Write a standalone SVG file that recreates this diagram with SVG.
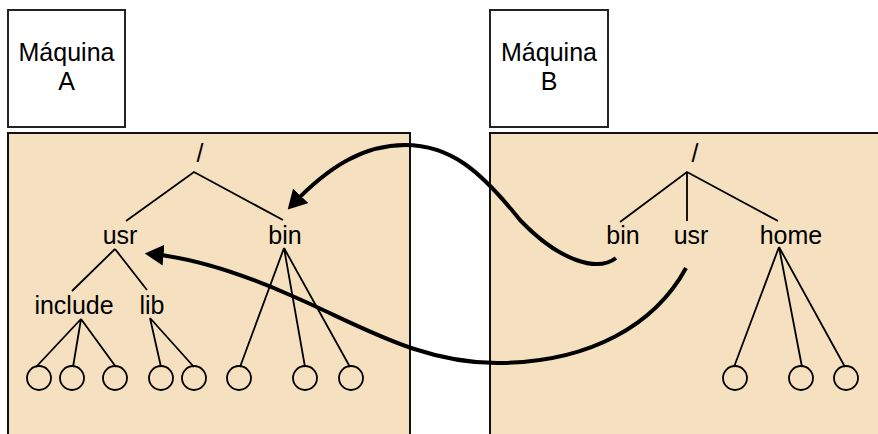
<svg xmlns="http://www.w3.org/2000/svg" width="878" height="434" viewBox="0 0 878 434">
<style>
.box{fill:#fff;stroke:#222;stroke-width:2}
.panel{fill:#F5E0C0;stroke:#111;stroke-width:2}
.t{font-family:"Liberation Sans",Arial,sans-serif;font-size:25px;fill:#000;text-anchor:middle}
.e{stroke:#000;stroke-width:1.8;fill:none}
.leaf{fill:none;stroke:#000;stroke-width:1.8}
.arr{fill:none;stroke:#000;stroke-width:4;marker-end:url(#ah)}
</style>
<defs>
<marker id="ah" markerUnits="userSpaceOnUse" viewBox="0 0 18 20" markerWidth="19" markerHeight="21" refX="12" refY="10" orient="auto">
<path d="M0,0 L18,10 L0,20 Z" fill="#000"/>
</marker>
</defs>
<g id="machineA">
<rect class="box" x="8" y="10" width="117" height="117"/>
<text class="t" x="66.5" y="61">Máquina</text>
<text class="t" x="66.5" y="90">A</text>
</g>
<g id="machineB">
<rect class="box" x="490" y="10" width="118" height="117"/>
<text class="t" x="549" y="61">Máquina</text>
<text class="t" x="549" y="90">B</text>
</g>
<g id="panelA"><rect class="panel" x="8" y="133" width="402" height="320"/></g>
<g id="panelB"><rect class="panel" x="490" y="133" width="400" height="320"/></g>
<g id="treeA">
<text class="t" x="200" y="162">/</text>
<text class="t" x="120" y="244">usr</text>
<text class="t" x="285" y="244">bin</text>
<text class="t" x="74" y="314">include</text>
<text class="t" x="152" y="314">lib</text>
<path class="e" d="M126,221 L194,172 L283,220 M115,249 L72,291 M115,249 L147,290 M81,319 L36,367 M81,319 L73,367 M81,319 L116,367 M150,318 L161,367 M150,318 L194,367 M284,248 L240,367 M284,248 L305,367 M284,248 L350,367"/>
<circle class="leaf" cx="39" cy="378" r="12"/>
<circle class="leaf" cx="72" cy="378" r="12"/>
<circle class="leaf" cx="115" cy="378" r="12"/>
<circle class="leaf" cx="161" cy="378" r="12"/>
<circle class="leaf" cx="194" cy="378" r="12"/>
<circle class="leaf" cx="239" cy="378" r="12"/>
<circle class="leaf" cx="305" cy="378" r="12"/>
<circle class="leaf" cx="351" cy="378" r="12"/>
</g>
<g id="treeB">
<text class="t" x="695" y="162">/</text>
<text class="t" x="623" y="244">bin</text>
<text class="t" x="691" y="244">usr</text>
<text class="t" x="791" y="244">home</text>
<path class="e" d="M620,222 L687,172 L778,221 M687,172 L687,221 M779,247 L734,367 M779,247 L802,367 M779,247 L845,367"/>
<circle class="leaf" cx="735" cy="378" r="12"/>
<circle class="leaf" cx="801" cy="378" r="12"/>
<circle class="leaf" cx="846" cy="378" r="12"/>
</g>
<g id="connectors">
<path class="arr" d="M616,258 C598,272 560,262 520,220 C480,170 450,145 405,145 C365,145 330,165 292,205"/>
<path class="arr" d="M686,268 C655,325 590,362 500,363 C420,364 360,325 290,295 C240,273 195,258 151,254"/>
</g>
</svg>
